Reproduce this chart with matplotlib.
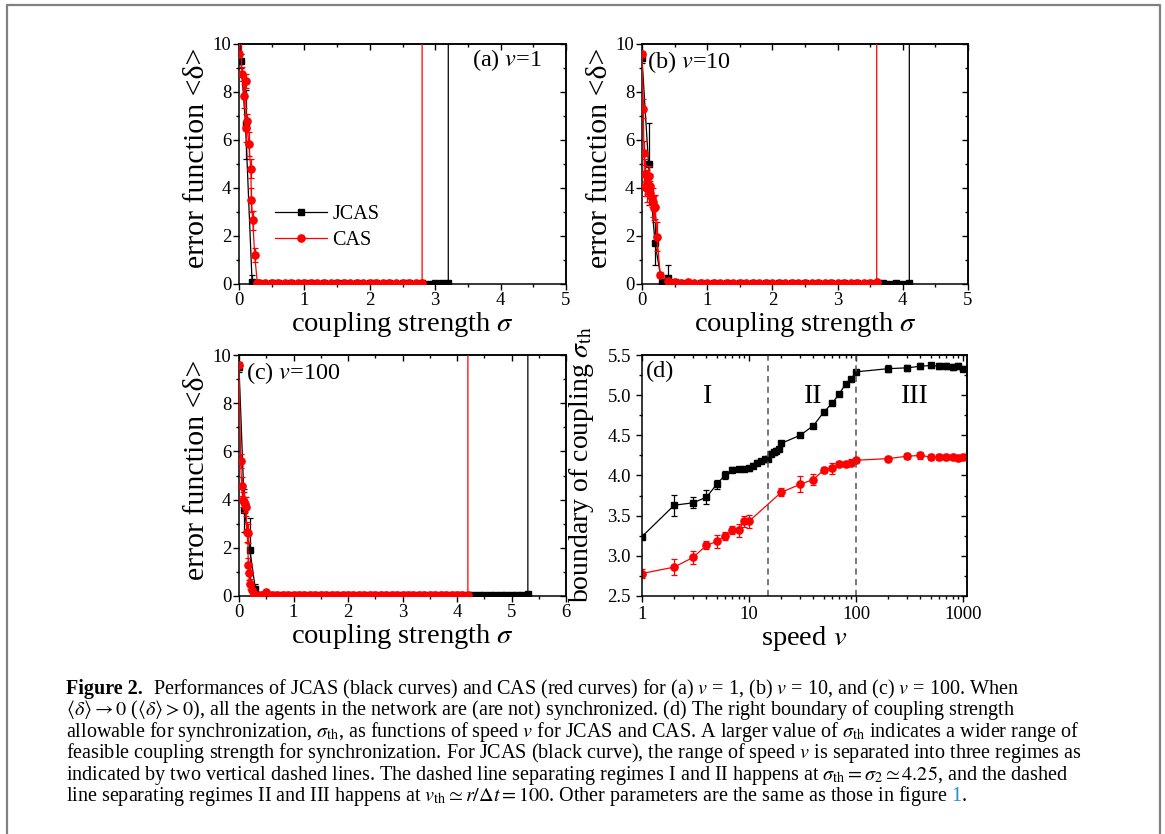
import numpy as np
import matplotlib
matplotlib.use('Agg')
import matplotlib.pyplot as plt
from matplotlib.ticker import MultipleLocator, FixedLocator, LogLocator, NullFormatter, FormatStrFormatter
from matplotlib.lines import Line2D

plt.rcParams['font.family'] = ['Liberation Serif', 'DejaVu Serif']
plt.rcParams['mathtext.fontset'] = 'stix'

# ---------------- data ----------------
# (a) v = 1
a_jcas_sig = [0.0, 0.03, 0.1, 0.2]
a_jcas_val = [10.8, 9.3, 6.65, 0.08]
a_jcas_err = [0.0, 0.3, 1.45, 0.3]
a_jcas_tail = [0.03, 0.02, 0.03, 0.03, 0.02, 0.03, 0.02, 0.03, 0.03, 0.02,
               0.03, 0.02, 0.03, 0.03, 0.02, 0.03, 0.02, 0.03, 0.03, 0.02,
               0.03, 0.02, 0.03, 0.03, 0.02, 0.03, 0.02, 0.03, 0.03, 0.04]  # sigma 0.3..3.2
a_jcas_edge = 3.2
a_cas_sig = [0.0, 0.04, 0.04, 0.08, 0.1, 0.11, 0.12, 0.15, 0.18, 0.19, 0.21, 0.24, 0.28]
a_cas_val = [9.6, 12.0, 8.75, 7.85, 8.45, 6.5, 6.8, 5.85, 4.8, 3.5, 2.65, 1.2, 0.05]
a_cas_err = [0.1, 0.0, 0.3, 0.5, 0.3, 0.6, 0.3, 0.5, 0.4, 0.5, 0.4, 0.3, 0.05]
a_cas_tail = [0.04, 0.03, 0.04, 0.03, 0.04, 0.03, 0.04, 0.03, 0.04, 0.03,
              0.04, 0.03, 0.04, 0.03, 0.04, 0.03, 0.04, 0.03, 0.04, 0.03,
              0.04, 0.03, 0.04, 0.03, 0.04, 0.04]  # sigma 0.3..2.8
a_cas_edge = 2.8

# (b) v = 10
b_jcas_sig = [0.0, 0.1, 0.2, 0.3, 0.4]
b_jcas_val = [9.4, 5.0, 1.7, 0.1, 0.24]
b_jcas_err = [0.2, 1.7, 0.9, 0.05, 0.55]
b_jcas_tail = [0.08, 0.03, 0.03, 0.02, 0.03, 0.02, 0.03, 0.02, 0.03, 0.02,
               0.03, 0.02, 0.03, 0.02, 0.03, 0.02, 0.03, 0.02, 0.03, 0.02,
               0.03, 0.02, 0.03, 0.02, 0.03, 0.02, 0.03, 0.02, 0.03, 0.02,
               0.03, 0.02, 0.03, 0.02, 0.03, 0.02, 0.05]  # sigma 0.5..4.1
b_jcas_edge = 4.1
b_cas_sig = [0.0, 0.02, 0.03, 0.04, 0.05, 0.07, 0.08, 0.1, 0.12, 0.13, 0.15, 0.17,
             0.18, 0.2, 0.23, 0.28, 0.4]
b_cas_val = [9.6, 7.3, 5.47, 4.05, 4.6, 4.27, 4.0, 4.5, 4.1, 3.8, 3.6, 3.4,
             3.15, 3.2, 1.97, 0.38, 0.12]
b_cas_err = [0.1, 0.4, 0.5, 0.4, 0.6, 0.5, 0.6, 0.4, 0.5, 0.5, 0.4, 0.6,
             0.5, 0.5, 0.6, 0.1, 0.05]
b_cas_tail = [0.08, 0.05, 0.10, 0.06, 0.04, 0.04, 0.03, 0.04, 0.03, 0.04,
              0.03, 0.04, 0.03, 0.04, 0.03, 0.04, 0.03, 0.04, 0.03, 0.04,
              0.03, 0.04, 0.03, 0.04, 0.03, 0.04, 0.03, 0.04, 0.03, 0.04,
              0.04, 0.10]  # sigma 0.5..3.6
b_cas_edge = 3.6

# (c) v = 100
c_jcas_sig = [0.0, 0.1, 0.2, 0.3]
c_jcas_val = [9.5, 3.55, 1.9, 0.3]
c_jcas_err = [0.2, 0.9, 1.35, 0.2]
c_jcas_tail = [0.05, 0.04, 0.04, 0.03, 0.04, 0.05, 0.04, 0.03, 0.04, 0.05,
               0.04, 0.03, 0.04, 0.05, 0.04, 0.03, 0.04, 0.05, 0.04, 0.03,
               0.04, 0.05, 0.04, 0.03, 0.04, 0.05, 0.04, 0.03, 0.04, 0.05,
               0.04, 0.03, 0.04, 0.05, 0.04, 0.03, 0.04, 0.05, 0.04, 0.03,
               0.04, 0.05, 0.04, 0.03, 0.04, 0.05, 0.04, 0.03, 0.04, 0.10]  # sigma 0.4..5.3
c_jcas_edge = 5.3
c_cas_sig = [0.0, 0.03, 0.05, 0.07, 0.09, 0.11, 0.13, 0.14, 0.16, 0.17, 0.18, 0.2,
             0.23, 0.28, 0.3]
c_cas_val = [9.6, 5.6, 4.55, 4.0, 3.9, 3.8, 3.7, 2.65, 2.6, 1.28, 0.95, 0.5,
             0.25, 0.1, 0.05]
c_cas_err = [0.1, 0.3, 0.4, 0.3, 0.4, 0.3, 0.4, 0.4, 0.4, 0.3, 0.3, 0.2,
             0.2, 0.1, 0.05]
c_cas_tail = [0.05, 0.15, 0.06, 0.05, 0.04, 0.05, 0.04, 0.05, 0.04, 0.05,
              0.04, 0.05, 0.04, 0.05, 0.04, 0.05, 0.04, 0.05, 0.04, 0.05,
              0.04, 0.05, 0.04, 0.05, 0.04, 0.05, 0.04, 0.05, 0.04, 0.05,
              0.04, 0.05, 0.04, 0.05, 0.04, 0.05, 0.04, 0.05, 0.05]  # sigma 0.4..4.2
c_cas_edge = 4.2

# (d) boundary of coupling vs speed
d_jcas_v = [1, 2, 3, 4, 5, 6, 7, 8, 9, 10, 11, 12, 13, 14, 15, 16, 17, 18, 19, 20,
            30, 40, 50, 60, 70, 80, 90, 100, 200, 300, 400, 500, 600, 700, 800, 900, 1000]
d_jcas_s = [3.24, 3.63, 3.66, 3.73, 3.89, 4.01, 4.07, 4.08, 4.08, 4.09, 4.12, 4.16, 4.18,
            4.20, 4.21, 4.27, 4.29, 4.31, 4.33, 4.40, 4.50, 4.62, 4.79, 4.90, 5.02,
            5.14, 5.20, 5.29, 5.33, 5.34, 5.36, 5.37, 5.36, 5.36, 5.35, 5.36, 5.33]
d_jcas_e = [0.03, 0.13, 0.07, 0.09, 0.06, 0.05, 0.03, 0.03, 0.03, 0.03, 0.03, 0.03, 0.03,
            0.03, 0.03, 0.03, 0.03, 0.03, 0.03, 0.03, 0.02, 0.02, 0.02, 0.02, 0.02,
            0.02, 0.02, 0.02, 0.04, 0.04, 0.04, 0.03, 0.04, 0.04, 0.04, 0.04, 0.03]
d_cas_v = [1, 2, 3, 4, 5, 6, 7, 8, 9, 10, 20, 30, 40, 50, 60, 70, 80, 90, 100,
           200, 300, 400, 500, 600, 700, 800, 900, 1000]
d_cas_s = [2.78, 2.86, 2.98, 3.13, 3.18, 3.25, 3.32, 3.32, 3.43, 3.43, 3.79, 3.89, 3.95,
           4.07, 4.09, 4.14, 4.14, 4.16, 4.19, 4.21, 4.24, 4.25, 4.23, 4.23, 4.23,
           4.23, 4.22, 4.23]
d_cas_e = [0.05, 0.10, 0.08, 0.05, 0.08, 0.05, 0.05, 0.08, 0.07, 0.08, 0.05, 0.10, 0.07,
           0.04, 0.07, 0.04, 0.04, 0.04, 0.03, 0.03, 0.04, 0.04, 0.04, 0.04, 0.04,
           0.04, 0.04, 0.04]
regime_bounds = [15, 100]
regime_labels = ['I', 'II', 'III']
regime_pos = [4.1, 40, 355]

OFF = 20.0  # off-scale value reached right after the boundary

# ---------------- figure ----------------
W, H = 1165, 834
fig = plt.figure(figsize=(W / 100, H / 100), dpi=100)

def ax_at(l, t, r, b):
    return fig.add_axes([l / W, 1 - b / H, (r - l) / W, (b - t) / H])

BLACK = '#000000'
RED = '#ff0000'
TICK = 13.5
LAB = 20


def style(ax, xmaj, xmin, ymaj, ymin, log=False):
    ax.tick_params(which='major', direction='out', length=4, width=1.0, labelsize=TICK, pad=1.5)
    ax.tick_params(which='minor', direction='out', length=2.5, width=1.0)
    for s in ax.spines.values():
        s.set_linewidth(1.1)
    top = ax.secondary_xaxis('top')
    right = ax.secondary_yaxis('right')
    for sec in (top, right):
        sec.tick_params(which='major', direction='in', length=4, width=1.0)
        sec.tick_params(which='minor', direction='in', length=2.5, width=1.0)
        for s in sec.spines.values():
            s.set_linewidth(1.1)
    top.tick_params(labeltop=False)
    right.tick_params(labelright=False)
    if log:
        top.xaxis.set_major_locator(LogLocator(base=10))
        top.xaxis.set_minor_locator(LogLocator(base=10, subs=np.arange(2, 10)))
        top.xaxis.set_minor_formatter(NullFormatter())
        ax.xaxis.set_minor_locator(LogLocator(base=10, subs=np.arange(2, 10)))
        ax.xaxis.set_minor_formatter(NullFormatter())
    else:
        ax.xaxis.set_major_locator(MultipleLocator(xmaj))
        ax.xaxis.set_minor_locator(MultipleLocator(xmin))
        top.xaxis.set_major_locator(MultipleLocator(xmaj))
        top.xaxis.set_minor_locator(MultipleLocator(xmin))
    ax.yaxis.set_major_locator(MultipleLocator(ymaj))
    ax.yaxis.set_minor_locator(MultipleLocator(ymin))
    right.yaxis.set_major_locator(MultipleLocator(ymaj))
    right.yaxis.set_minor_locator(MultipleLocator(ymin))


def err_panel(ax, jsig, jval, jerr, jtail, jstart, jedge,
              csig, cval, cerr, ctail, cstart, cedge, xmax):
    jt_x = np.linspace(jstart, jedge, len(jtail))
    ct_x = np.linspace(cstart, cedge, len(ctail))
    jx = list(jsig) + list(jt_x) + [jedge]
    jy = list(jval) + list(jtail) + [OFF]
    cx = list(csig) + list(ct_x) + [cedge]
    cy = list(cval) + list(ctail) + [OFF]
    ax.errorbar(jsig, jval, yerr=jerr, fmt='none', ecolor=BLACK, elinewidth=0.9,
                capsize=2, capthick=0.9, zorder=2)
    ax.errorbar(csig, cval, yerr=cerr, fmt='none', ecolor=RED, elinewidth=0.9,
                capsize=2, capthick=0.9, zorder=3)
    ax.plot(jx, jy, '-', color=BLACK, lw=0.9, marker='s', ms=4.5, mfc=BLACK, mec=BLACK, zorder=2)
    ax.plot(cx, cy, '-', color=RED, lw=0.9, marker='o', ms=5.2, mfc=RED, mec=RED, zorder=3)
    ax.set_xlim(0, xmax)
    ax.set_ylim(0, 10)
    style(ax, 1, 0.5, 2, 1)
    ax.set_xlabel(r'coupling strength $\sigma$', fontsize=LAB + 0.5)
    ax.set_ylabel(r'error function <δ>', fontsize=LAB + 1.5)
    ax.xaxis.set_label_coords(0.5, -0.108)
    ax.yaxis.set_label_coords(-0.088, 0.525)


axa = ax_at(239, 44, 566, 284)
err_panel(axa, a_jcas_sig, a_jcas_val, a_jcas_err, a_jcas_tail, 0.3, a_jcas_edge,
          a_cas_sig, a_cas_val, a_cas_err, a_cas_tail, 0.3, a_cas_edge, 5)
axa.text(0.82, 0.935, r'(a) $v$=1', transform=axa.transAxes, fontsize=17.5,
         ha='center', va='center')
handles = [Line2D([], [], color=BLACK, lw=0.9, marker='s', ms=4.5),
           Line2D([], [], color=RED, lw=0.9, marker='o', ms=5.2)]
axa.legend(handles, ['JCAS', 'CAS'], loc='center left', bbox_to_anchor=(0.11, 0.235),
           frameon=False, fontsize=14.5, handlelength=2.6, handletextpad=0.25,
           borderpad=0, borderaxespad=0, labelspacing=0.35)

axb = ax_at(642, 44, 968, 284)
err_panel(axb, b_jcas_sig, b_jcas_val, b_jcas_err, b_jcas_tail, 0.5, b_jcas_edge,
          b_cas_sig, b_cas_val, b_cas_err, b_cas_tail, 0.5, b_cas_edge, 5)
axb.text(0.145, 0.925, r'(b) $v$=10', transform=axb.transAxes, fontsize=17.5,
         ha='center', va='center')

axc = ax_at(239, 355, 566, 596)
err_panel(axc, c_jcas_sig, c_jcas_val, c_jcas_err, c_jcas_tail, 0.4, c_jcas_edge,
          c_cas_sig, c_cas_val, c_cas_err, c_cas_tail, 0.4, c_cas_edge, 6)
axc.text(0.165, 0.925, r'(c) $v$=100', transform=axc.transAxes, fontsize=17.5,
         ha='center', va='center')

axd = ax_at(642, 355, 967, 596)
axd.set_xscale('log')
axd.errorbar(d_jcas_v, d_jcas_s, yerr=d_jcas_e, fmt='none', ecolor=BLACK, elinewidth=0.9,
             capsize=2.2, capthick=0.9)
axd.errorbar(d_cas_v, d_cas_s, yerr=d_cas_e, fmt='none', ecolor=RED, elinewidth=0.9,
             capsize=2.2, capthick=0.9)
axd.plot(d_jcas_v, d_jcas_s, '-', color=BLACK, lw=0.9, marker='s', ms=4.5)
axd.plot(d_cas_v, d_cas_s, '-', color=RED, lw=0.9, marker='o', ms=5.2)
for vb in regime_bounds:
    axd.axvline(vb, color='#555555', lw=1.1, ls=(0, (4, 3)))
for lab, xp in zip(regime_labels, regime_pos):
    axd.text(xp, 4.98, lab, fontsize=20, ha='center', va='center')
axd.text(0.012, 0.93, '(d)', transform=axd.transAxes, fontsize=17.5, ha='left', va='center')
axd.set_xlim(1, 1090)
axd.set_ylim(2.5, 5.5)
style(axd, None, None, 0.5, 0.25, log=True)
axd.set_xticks([1, 10, 100, 1000])
axd.set_xticklabels(['1', '10', '100', '1000'])
axd.yaxis.set_major_formatter(FormatStrFormatter('%.1f'))
axd.tick_params(axis='y', which='major', pad=4)
axd.tick_params(axis='x', which='major', pad=3)
axd.set_xlabel(r'speed $v$', fontsize=LAB + 0.5)
axd.set_ylabel(r'boundary of coupling $\sigma_{\rm th}$', fontsize=LAB)
axd.xaxis.set_label_coords(0.5, -0.118)
axd.yaxis.set_label_coords(-0.14, 0.545)

# ---------------- frame ----------------
fc = '#808080'
fig.add_artist(Line2D([7 / W, 7 / W, 1160 / W, 1160 / W], [0, 1 - 5 / H, 1 - 5 / H, 0],
                      transform=fig.transFigure, color=fc, lw=1.6))

# ---------------- caption ----------------
renderer = fig.canvas.get_renderer()
CAP = 14.5
X0 = 66
lines = [
    r"Performances of JCAS (black curves) and CAS (red curves) for (a) $v$ = 1, (b) $v$ = 10, and (c) $v$ = 100. When",
    r"$\langle\delta\rangle \rightarrow 0$ ($\langle\delta\rangle > 0$), all the agents in the network are (are not) synchronized. (d) The right boundary of coupling strength",
    r"allowable for synchronization, $\sigma_{\rm th}$, as functions of speed $v$ for JCAS and CAS. A larger value of $\sigma_{\rm th}$ indicates a wider range of",
    r"feasible coupling strength for synchronization. For JCAS (black curve), the range of speed $v$ is separated into three regimes as",
    r"indicated by two vertical dashed lines. The dashed line separating regimes I and II happens at $\sigma_{\rm th} = \sigma_2 \simeq 4.25$, and the dashed",
    r"line separating regimes II and III happens at $v_{\rm th} \simeq r/\Delta t = 100$. Other parameters are the same as those in figure",
]
y0 = 694
dy = 21.4


def put(x_px, y_px, s, **kw):
    t = fig.text(x_px / W, 1 - y_px / H, s, fontsize=CAP, ha='left', va='baseline', **kw)
    return t.get_window_extent(renderer).x1


for i, s in enumerate(lines):
    y = y0 + i * dy
    x = X0
    if i == 0:
        x = put(x, y, 'Figure 2.', fontweight='bold') + 10
    x = put(x, y, s)
    if i == len(lines) - 1:
        x = put(x + 4, y, '1', color='#1f8fd0')
        put(x, y, '.')

fig.savefig('out.png', dpi=100)
